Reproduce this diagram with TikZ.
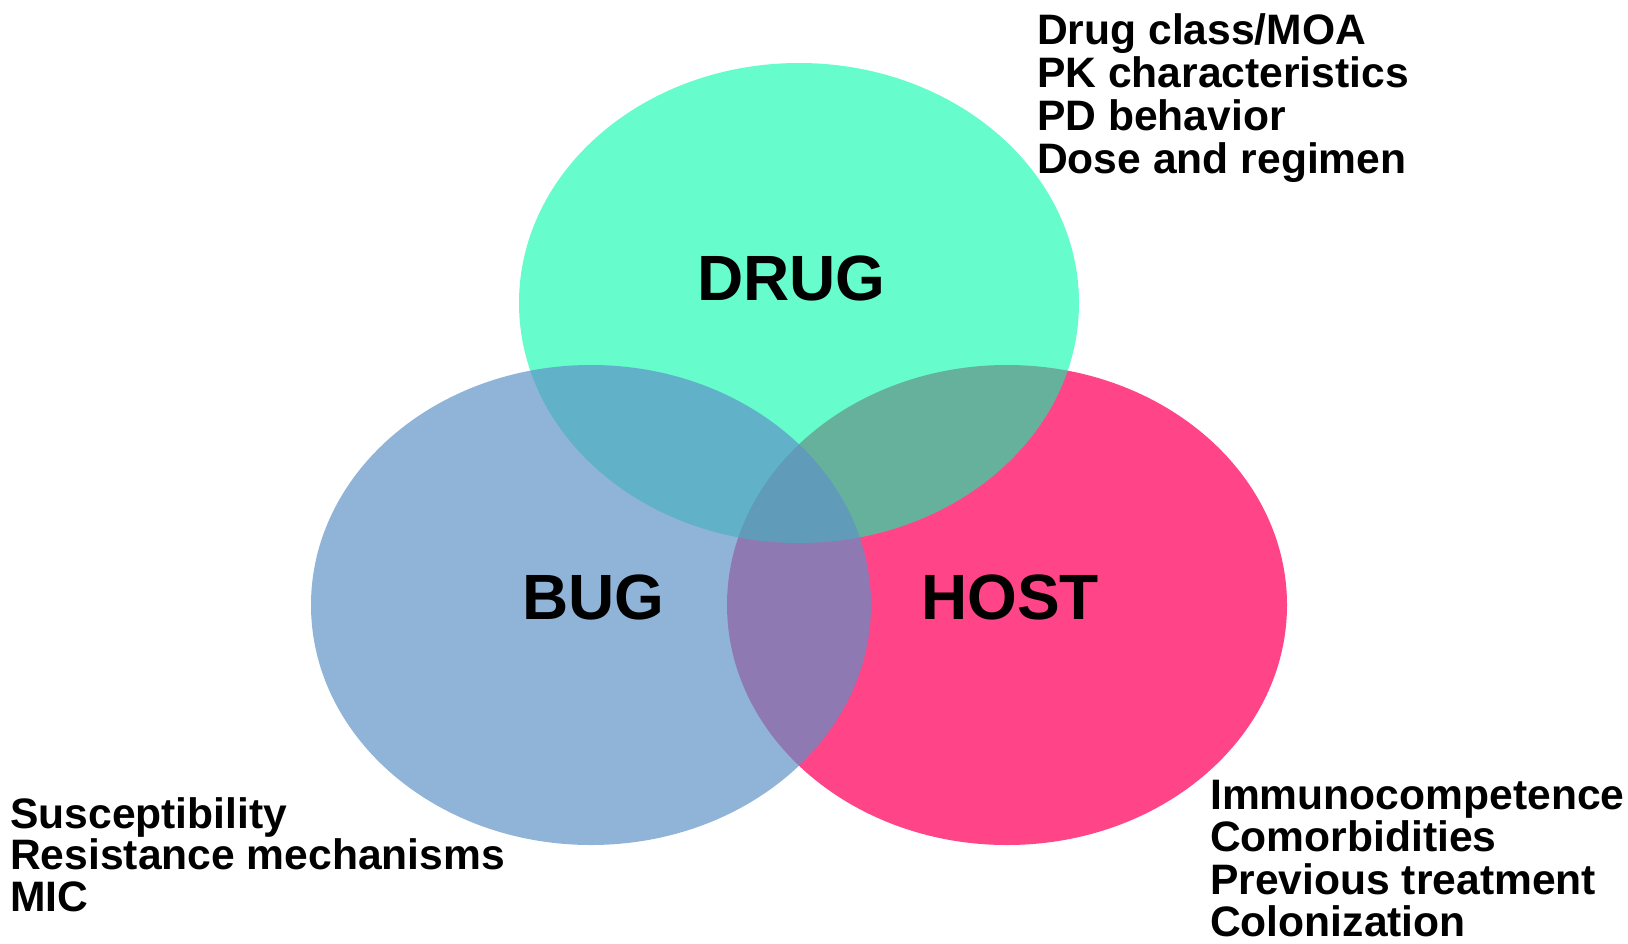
\documentclass[tikz,border=0pt]{standalone}
\usepackage{fontspec}
\setmainfont{Liberation Sans}
\usepackage{xcolor}
\definecolor{host}{HTML}{FF4487}
\definecolor{drug}{HTML}{00FAAA}
\definecolor{bug}{HTML}{5E92C7}
\usepackage{tikz}
\tikzset{
  venn/.style={x radius=280pt, y radius=240pt},
  setname/.style={font=\fontsize{64}{64}\selectfont\bfseries, anchor=base, inner sep=0pt},
  note/.style={font=\fontsize{42.6}{42.6}\selectfont\bfseries, anchor=base west, inner sep=0pt},
}

\begin{document}
\begin{tikzpicture}[x=1pt,y=-1pt]
  \useasboundingbox (0,0) rectangle (1628,943);
  % three sets, host at the bottom of the stack
  \fill[host] (1007,605) ellipse [venn];
  \fill[drug, fill opacity=0.6] (799,303) ellipse [venn];
  \fill[bug, fill opacity=0.69] (591,605) ellipse [venn];

  \node[setname](drugname) at (791.5,300.5) {DRUG};
  \node[setname](bugname) at (593.5,619.5) {BUG};
  \node[setname](hostname) at (1010,619.5) {HOST};

  % factors listed next to each set
  \foreach \txt [count=\i] in {Drug class/MOA, PK characteristics, PD behavior, Dose and regimen}
    \node[note](drugnote\i) at (1037,1+43*\i) {\txt};
  \foreach \txt [count=\i] in {Susceptibility, Resistance mechanisms, MIC}
    \node[note](bugnote\i) at (10,786.5+41.5*\i) {\txt};
  \foreach \txt [count=\i] in {Immunocompetence, Comorbidities, Previous treatment, Colonization}
    \node[note](hostnote\i) at (1210,766.5+42.5*\i) {\txt};
\end{tikzpicture}
\end{document}
